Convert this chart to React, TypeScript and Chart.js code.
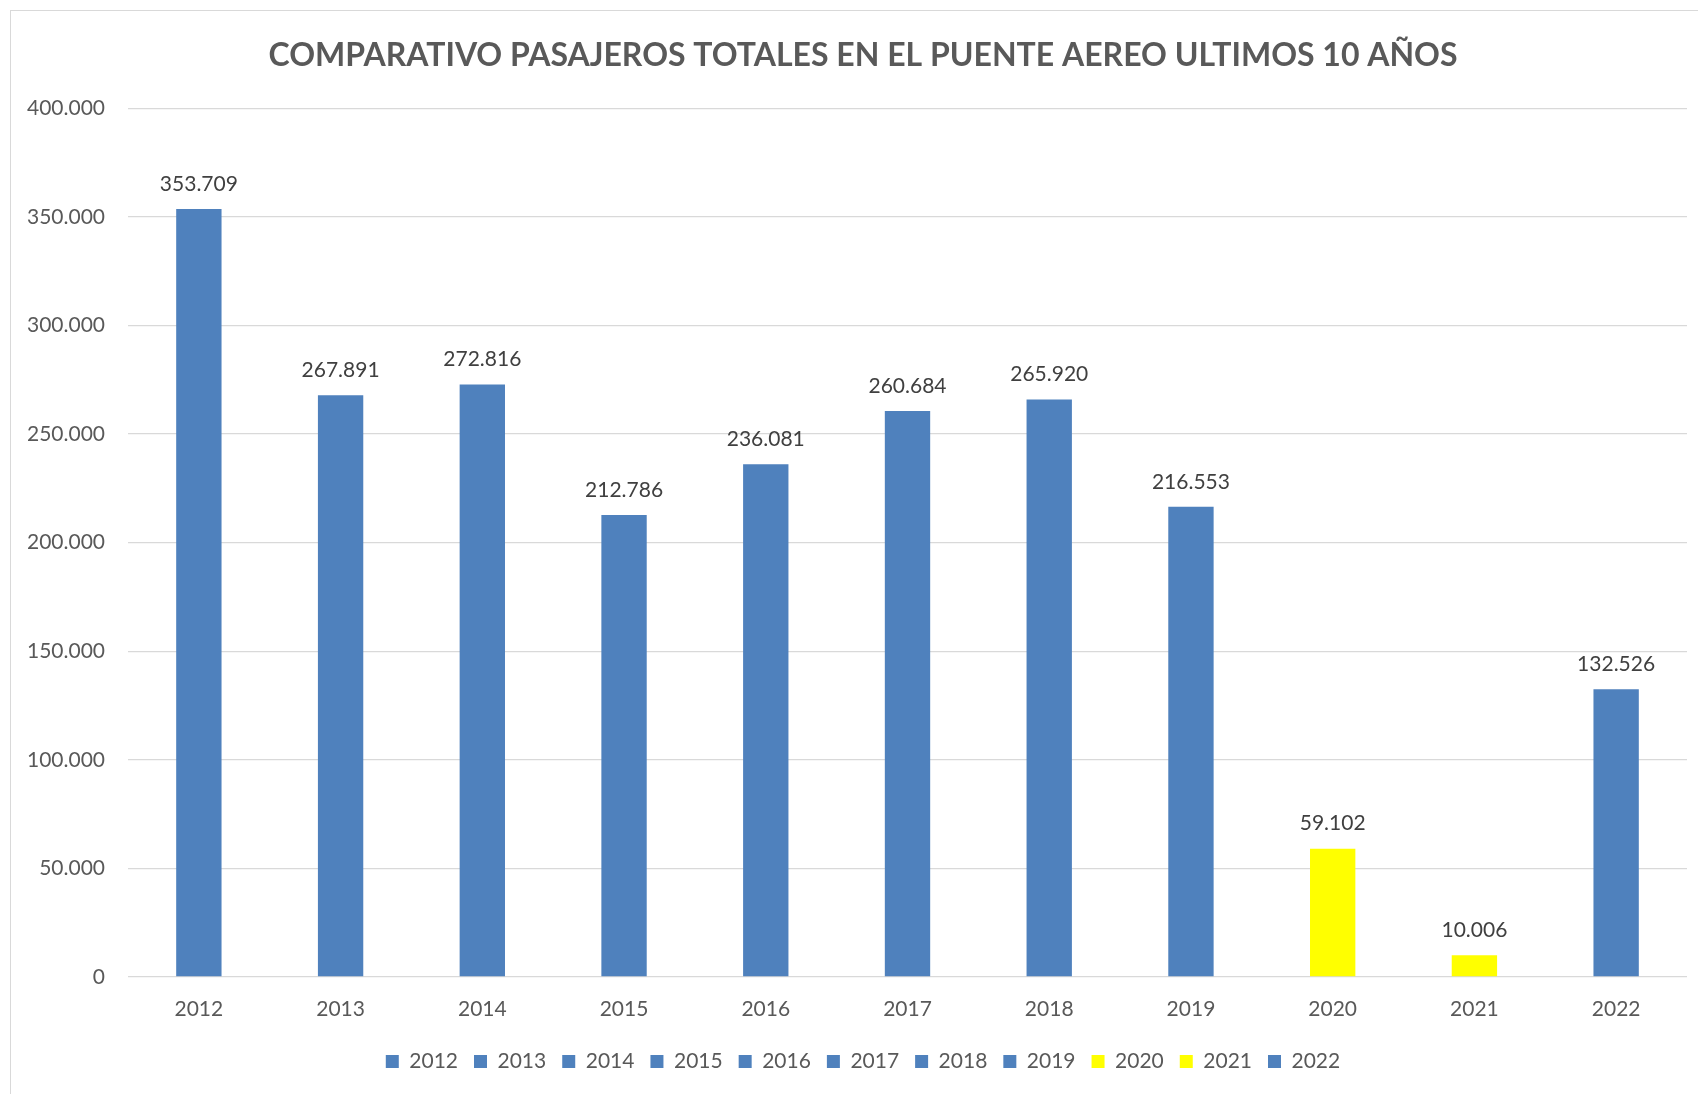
import React, { useEffect, useRef } from "react";
import { Chart, registerables } from "chart.js";

Chart.register(...registerables);

const TITLE = "COMPARATIVO PASAJEROS TOTALES EN EL PUENTE AEREO ULTIMOS 10 AÑOS";
const years = ["2012", "2013", "2014", "2015", "2016", "2017", "2018", "2019", "2020", "2021", "2022"];
const passengers = [353709, 267891, 272816, 212786, 236081, 260684, 265920, 216553, 59102, 10006, 132526];
const barColors = [
  "#4F81BD", "#4F81BD", "#4F81BD", "#4F81BD", "#4F81BD", "#4F81BD",
  "#4F81BD", "#4F81BD", "#FFFF00", "#FFFF00", "#4F81BD",
];
const yMin = 0;
const yMax = 400000;
const yStep = 50000;

const FONT = "Lato, 'Open Sans', 'Noto Sans', sans-serif";

function fmt(v: number): string {
  return String(Math.round(v)).replace(/\B(?=(\d{3})+(?!\d))/g, ".");
}

const dataLabelPlugin = {
  id: "dataLabels",
  afterDatasetsDraw(chart: any) {
    const ctx = chart.ctx;
    const meta = chart.getDatasetMeta(0);
    const data = chart.data.datasets[0].data as number[];
    ctx.save();
    ctx.font = `21px ${FONT}`;
    ctx.fillStyle = "#404040";
    ctx.textAlign = "center";
    ctx.textBaseline = "middle";
    meta.data.forEach((el: any, i: number) => {
      ctx.fillText(fmt(data[i]), el.x, el.y - 25);
    });
    ctx.restore();
  },
};

// widen the y-axis label clip area so labels left of the layout padding show
const yLabelAreaPlugin = {
  id: "yLabelArea",
  afterLayout(chart: any) {
    if (chart.scales && chart.scales.y) {
      chart.scales.y.left = 0;
    }
  },
};

export default function App() {
  const canvasRef = useRef<HTMLCanvasElement | null>(null);

  useEffect(() => {
    if (!canvasRef.current) return;
    const chart = new Chart(canvasRef.current, {
      type: "bar",
      data: {
        labels: years,
        datasets: [
          {
            label: "Pasajeros",
            data: passengers,
            backgroundColor: barColors,
            borderWidth: 0,
            categoryPercentage: 1,
            barPercentage: 0.32,
          },
        ],
      },
      options: {
        responsive: false,
        animation: false,
        layout: { padding: { left: 39, right: 11, top: 0, bottom: 12 } },
        plugins: {
          title: {
            display: true,
            text: TITLE,
            color: "#595959",
            font: { family: FONT, size: 32, weight: "bold" },
            padding: { top: 36, bottom: 34 },
          },
          legend: {
            display: true,
            position: "bottom",
            onClick: () => {},
            labels: {
              color: "#595959",
              font: { family: FONT, size: 21 },
              boxWidth: 13,
              boxHeight: 13,
              padding: 16,
              generateLabels: () =>
                years.map((y, i) => ({
                  text: y,
                  fillStyle: barColors[i],
                  strokeStyle: barColors[i],
                  lineWidth: 0,
                  hidden: false,
                  index: i,
                  datasetIndex: 0,
                  fontColor: "#595959",
                })),
            },
          },
          tooltip: { enabled: false },
        },
        scales: {
          x: {
            grid: { display: false, drawTicks: false },
            border: { display: false },
            ticks: {
              color: "#595959",
              font: { family: FONT, size: 21 },
              padding: 20,
              maxRotation: 0,
            },
            afterFit: (scale: any) => {
              scale.height = 58;
            },
          },
          y: {
            min: yMin,
            max: yMax,
            grid: { color: "#D9D9D9", lineWidth: 1.3, drawTicks: false },
            border: { display: false },
            ticks: {
              stepSize: yStep,
              color: "#595959",
              font: { family: FONT, size: 21 },
              padding: 23,
              callback: (v: any) => fmt(Number(v)),
            },
            afterFit: (scale: any) => {
              scale.width = 89;
            },
          },
        },
      },
      plugins: [dataLabelPlugin, yLabelAreaPlugin],
    });
    return () => chart.destroy();
  }, []);

  return (
    <div
      style={{
        position: "fixed",
        left: 0,
        top: 0,
        width: 1698,
        height: 1094,
        background: "#ffffff",
        overflow: "hidden",
      }}
    >
      <div
        style={{
          position: "absolute",
          left: 10,
          top: 10,
          width: 1720,
          height: 1120,
          border: "1px solid #D9D9D9",
          boxSizing: "border-box",
        }}
      />
      <canvas
        ref={canvasRef}
        width={1698}
        height={1094}
        style={{ position: "absolute", left: 0, top: 0, width: 1698, height: 1094 }}
      />
    </div>
  );
}
